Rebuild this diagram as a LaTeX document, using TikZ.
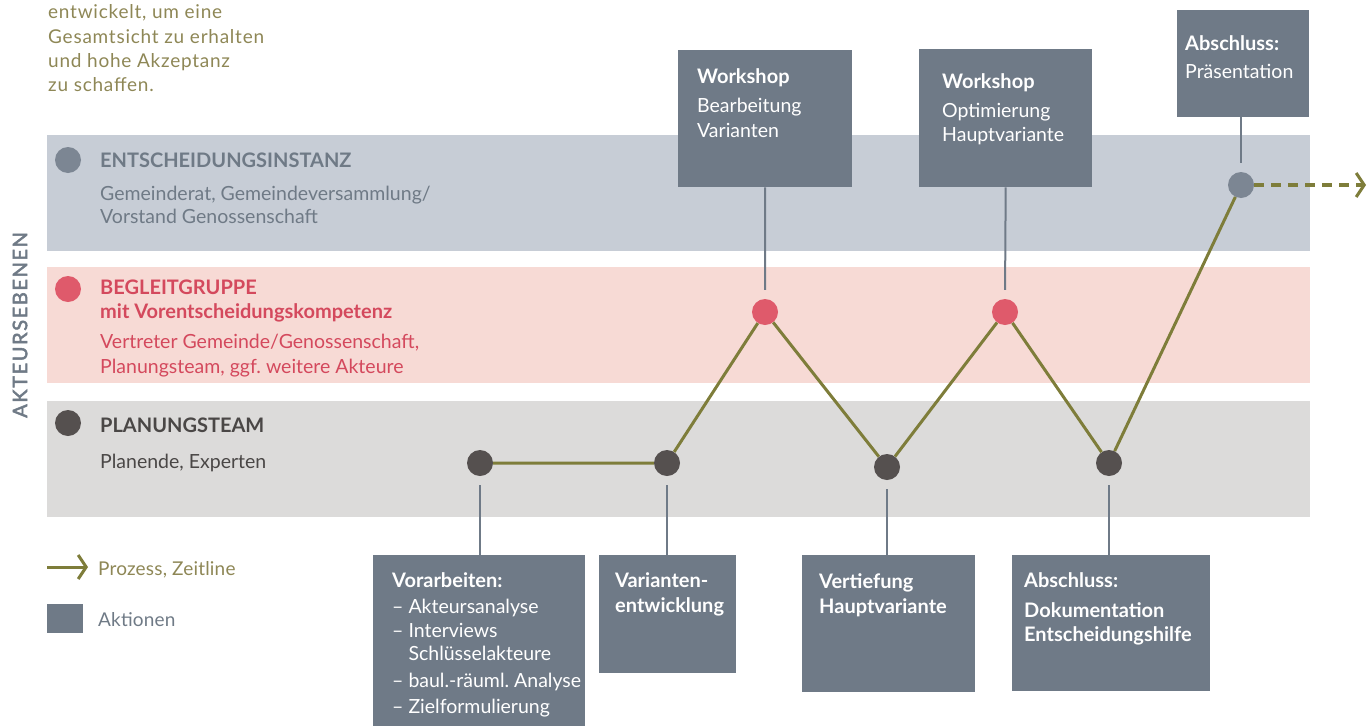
\documentclass[tikz,border=0pt]{standalone}
\usepackage{fontspec}
\setmainfont{Lato}
\newfontfamily\introfont{Lato}[LetterSpace=4]
\newfontfamily\legfont{Lato}[LetterSpace=1]
\newfontfamily\aktfont{Lato}[LetterSpace=8, FakeBold=2.5]
\usetikzlibrary{arrows.meta}
\definecolor{bandblue}{HTML}{C7CDD6}
\definecolor{bandpink}{HTML}{F7DAD5}
\definecolor{bandgrey}{HTML}{DCDBDA}
\definecolor{dotblue}{HTML}{7C8693}
\definecolor{dotred}{HTML}{DF5A6B}
\definecolor{dotdark}{HTML}{55504F}
\definecolor{boxc}{HTML}{6F7A87}
\definecolor{olive}{HTML}{7E7D3A}
\definecolor{olivetext}{HTML}{8E8756}
\definecolor{txtblue}{HTML}{6F7A86}
\definecolor{txtred}{HTML}{D4495D}
\definecolor{txtdark}{HTML}{4A4746}
\tikzset{
  band/.style={draw=none, minimum width=1263pt, minimum height=116pt, anchor=north west, inner sep=0pt},
  dotst/.style={circle, minimum size=26pt, inner sep=0pt, draw=none},
  actbox/.style={fill=boxc, draw=none, anchor=north west, inner sep=0pt},
  ln/.style={anchor=base west, inner sep=0pt},
  rg/.style={ln, font=\fontsize{19.5}{24}\selectfont},
  bd/.style={ln, font=\bfseries\fontsize{20}{24}\selectfont},
  wt/.style={text=white},
  intro/.style={ln, text=olivetext, font=\introfont\fontsize{19}{24}\selectfont},
  conn/.style={draw=boxc, line width=2pt},
  proc/.style={draw=olive, line width=3pt},
  barb/.style={-{Straight Barb[length=8pt,width=24pt,line width=3pt]}},
}
\begin{document}
\begin{tikzpicture}[x=1pt,y=-1pt]
\useasboundingbox (0,0) rectangle (1369,726);
% intro text
\node[intro] (i1) at (48,18) {entwickelt, um eine};
\node[intro] (i2) at (48,43) {Gesamtsicht zu erhalten};
\node[intro] (i3) at (48,67) {und hohe Akzeptanz};
\node[intro] (i4) at (48,91) {zu schaffen.};
% bands
\node[band, fill=bandblue] (bandE) at (47,135) {};
\node[band, fill=bandpink] (bandB) at (47,267) {};
\node[band, fill=bandgrey] (bandP) at (47,401) {};
% vertical label
\node[rotate=90, text=txtblue, inner sep=0pt, font=\aktfont\fontsize{20}{20}\selectfont] (akt) at (20,325) {AKTEURSEBENEN};
% band legend dots and texts
\node[dotst, fill=dotblue] (lE) at (68,160) {};
\node[dotst, fill=dotred] (lB) at (68,289) {};
\node[dotst, fill=dotdark] (lP) at (68,423) {};
\node[bd, text=txtblue] (tE1) at (100,167) {ENTSCHEIDUNGSINSTANZ};
\node[rg, text=txtblue] (tE2) at (100,200) {Gemeinderat, Gemeindeversammlung/};
\node[rg, text=txtblue] (tE3) at (100,223) {Vorstand Genossenschaft};
\node[bd, text=txtred] (tB1) at (100,294) {BEGLEITGRUPPE};
\node[bd, text=txtred] (tB2) at (100,318) {mit Vorentscheidungskompetenz};
\node[rg, text=txtred] (tB3) at (100,348) {Vertreter Gemeinde/Genossenschaft,};
\node[rg, text=txtred] (tB4) at (100,373) {Planungsteam, ggf.\ weitere Akteure};
\node[bd, text=txtdark] (tP1) at (100,432) {PLANUNGSTEAM};
\node[rg, text=txtdark] (tP2) at (100,468) {Planende, Experten};
% process dots
\node[dotst, fill=dotdark] (p1) at (480,463) {};
\node[dotst, fill=dotdark] (p2) at (667,463) {};
\node[dotst, fill=dotred] (r1) at (765,312) {};
\node[dotst, fill=dotdark] (p3) at (887,467) {};
\node[dotst, fill=dotred] (r2) at (1005,312) {};
\node[dotst, fill=dotdark] (p4) at (1109,463) {};
\node[dotst, fill=dotblue] (b1) at (1241,185) {};
\coordinate (arrend) at (1366,185);
\draw[proc] (p1) -- (p2) -- (r1) -- (p3) -- (r2) -- (p4) -- (b1);
\draw[proc, line width=3.5pt, dash pattern=on 10pt off 7pt, barb] (b1) -- (arrend);
% top boxes
\node[actbox, minimum width=174pt, minimum height=137pt] (w1) at (678,50) {};
\node[bd, wt] (w1a) at (697,83) {Workshop};
\node[rg, wt] (w1b) at (697,112) {Bearbeitung};
\node[rg, wt] (w1c) at (697,137) {Varianten};
\node[actbox, minimum width=173pt, minimum height=138pt] (w2) at (919,49) {};
\node[bd, wt] (w2a) at (942,88) {Workshop};
\node[rg, wt] (w2b) at (942,117) {Optimierung};
\node[rg, wt] (w2c) at (942,141) {Hauptvariante};
\node[actbox, minimum width=132pt, minimum height=107pt] (a1) at (1177,10) {};
\node[bd, wt] (a1a) at (1185,50) {Abschluss:};
\node[rg, wt] (a1b) at (1185,78) {Präsentation};
% bottom boxes
\node[actbox, minimum width=212pt, minimum height=180pt] (v1) at (373,555) {};
\node[bd, wt] (v1a) at (392,587) {Vorarbeiten:};
\node[rg, wt] (v1b) at (392,613) {– Akteursanalyse};
\node[rg, wt] (v1c) at (392,637) {– Interviews};
\node[rg, wt] (v1d) at (392,660) {\hphantom{– }Schlüsselakteure};
\node[rg, wt] (v1e) at (392,687) {– baul.-räuml.\ Analyse};
\node[rg, wt] (v1f) at (392,713) {– Zielformulierung};
\node[actbox, minimum width=137pt, minimum height=118pt] (v2) at (599,555) {};
\node[bd, wt] (v2a) at (615,587) {Varianten-};
\node[bd, wt] (v2b) at (615,612) {entwicklung};
\node[actbox, minimum width=173pt, minimum height=137pt] (v3) at (802,555) {};
\node[bd, wt] (v3a) at (819,588) {Vertiefung};
\node[bd, wt] (v3b) at (819,613) {Hauptvariante};
\node[actbox, minimum width=198pt, minimum height=136pt] (v4) at (1012,555) {};
\node[bd, wt] (v4a) at (1024,587) {Abschluss:};
\node[bd, wt] (v4b) at (1024,617) {Dokumentation};
\node[bd, wt] (v4c) at (1024,641) {Entscheidungshilfe};
% connectors
\draw[conn, shorten >=9pt] (w1.south) -- (r1.north);
\draw[conn, shorten >=9pt] (w2.south) -- (r2.north);
\draw[conn, shorten >=9pt] (a1.south -| b1) -- (b1.north);
\draw[conn, shorten <=9pt] (p1.south) -- (v1.north -| p1);
\draw[conn, shorten <=9pt] (p2.south) -- (v2.north -| p2);
\draw[conn, shorten <=9pt] (p3.south) -- (v3.north -| p3);
\draw[conn, shorten <=9pt] (p4.south) -- (v4.north -| p4);
% legend
\coordinate (lgA) at (47,567);
\coordinate (lgB) at (88,567);
\draw[proc, barb] (lgA) -- (lgB);
\node[anchor=base west, inner sep=0pt, text=olivetext, font=\legfont\fontsize{19}{22}\selectfont] (lgT1) at (98,575) {Prozess, Zeitline};
\node[actbox, minimum width=36pt, minimum height=29pt] (lgBox) at (47,604) {};
\node[anchor=base west, inner sep=0pt, text=txtblue, font=\legfont\fontsize{19}{22}\selectfont] (lgT2) at (98,626) {Aktionen};
\end{tikzpicture}
\end{document}
